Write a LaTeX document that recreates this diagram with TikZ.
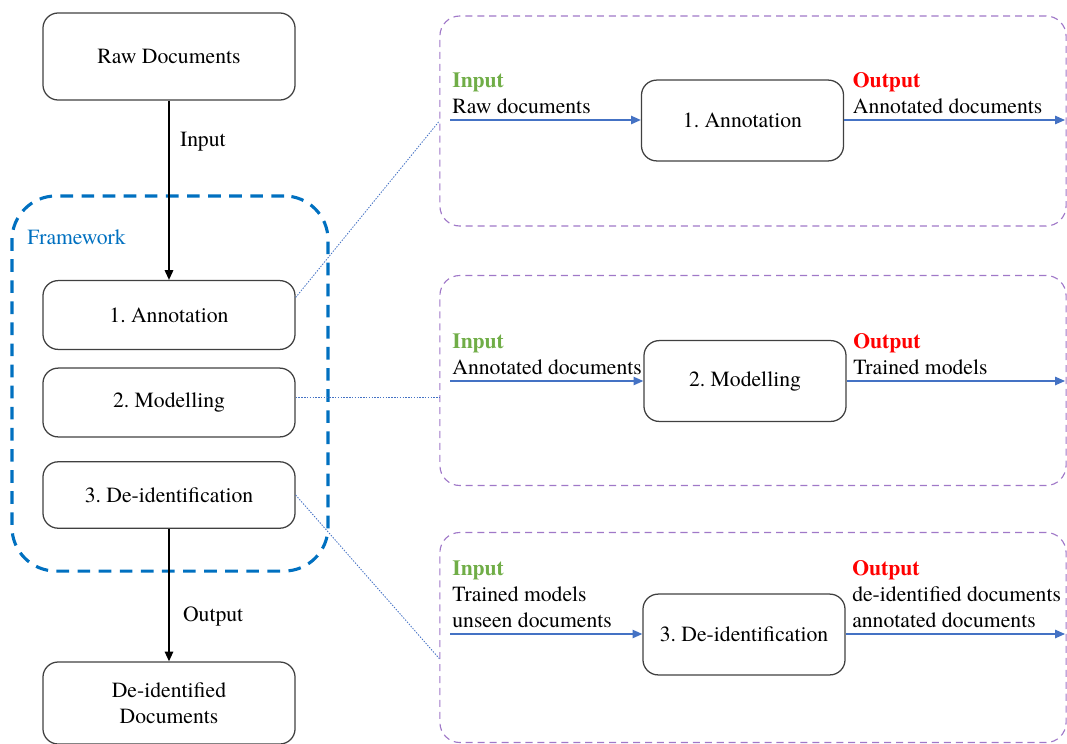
\documentclass[tikz,border=0pt]{standalone}
\usepackage{fontspec}
\setmainfont{texgyretermes}[Extension=.otf, UprightFont=*-regular, BoldFont=*-bold]
\usepackage{tikz}
\usetikzlibrary{calc,positioning,arrows.meta}
\definecolor{fwblue}{RGB}{0,112,192}
\definecolor{lnblue}{RGB}{68,114,196}
\definecolor{panelpurple}{RGB}{160,120,200}
\definecolor{ingreen}{RGB}{112,173,71}
\definecolor{outred}{RGB}{255,0,0}
\newcommand{\txt}{\fontsize{15.4}{18.5}\selectfont}
\tikzstyle{stage}   = [draw=black!75, line width=0.9pt, rounded corners=0.38cm, minimum width=6.3cm, align=center, font=\txt]
\tikzstyle{task}    = [draw=black!75, line width=0.9pt, rounded corners=0.38cm, minimum width=5.05cm, minimum height=2.02cm, align=center, font=\txt]
\tikzstyle{panel}   = [draw=panelpurple, line width=0.8pt, dash pattern=on 5pt off 3.5pt, rounded corners=0.5cm, minimum width=15.65cm, minimum height=5.25cm]
\tikzstyle{frame}   = [draw=fwblue, line width=2.2pt, dash pattern=on 9pt off 6pt, rounded corners=1.1cm, minimum width=7.9cm, minimum height=9.375cm]
\tikzstyle{arrow}   = [line width=1.3pt, -{Triangle[length=7pt,width=6pt]}]
\tikzstyle{flow}    = [lnblue, line width=0.9pt, -{Triangle[length=7pt,width=6pt]}]
\tikzstyle{link}    = [lnblue, line width=0.6pt, dash pattern=on 1pt off 1pt]
\tikzstyle{iolabel} = [align=left, anchor=south west, inner sep=1.5pt, yshift=2.5pt, font=\txt]

\begin{document}
\begin{tikzpicture}[x=0.025cm, y=-0.025cm]
        \useasboundingbox (0,0) rectangle (1067,744);

        \node[frame] (fw) at (170,383.5) {};
        \node[anchor=west, inner sep=0pt, text=fwblue, font=\txt] (fwname) at (27,237) {Framework};

        \node[stage, minimum height=2.175cm] (raw) at (169,56.5) {Raw Documents};
        \node[stage, minimum height=1.72cm] (anno) at (169,315) {1.\ Annotation};
        \node[stage, minimum height=1.72cm] (model) at (169,402.5) {2.\ Modelling};
        \node[stage, minimum height=1.66cm] (deid) at (169,495) {3.\ De-identification};
        \node[stage, minimum height=2.05cm] (out) at (169,703) {De-identified\\Documents};

        \draw[arrow] (raw) -- node[right, pos=0.23, font=\txt, xshift=4pt] (inlab) {Input} (anno);
        \draw[arrow] (deid) -- node[right, pos=0.66, font=\txt, xshift=6pt] (outlab) {Output} (out);

        \node[panel] (p1) at (753,121) {};
        \node[panel] (p2) at (753,380.5) {};
        \node[panel] (p3) at (753,637.5) {};

        \node[task] (t1) at (742.5,120.5) {1.\ Annotation};
        \node[task] (t2) at (745,381) {2.\ Modelling};
        \node[task] (t3) at (744,634.5) {3.\ De-identification};

        \coordinate (in1) at (450,120);
        \coordinate (in2) at (450,381);
        \coordinate (in3) at (450,634);
        \coordinate (out1) at (1065,120);
        \coordinate (out2) at (1065,381);
        \coordinate (out3) at (1065,634);

        \draw[flow] (in1) -- (in1 -| t1.west);
        \draw[flow] (in2) -- (in2 -| t2.west);
        \draw[flow] (in3) -- (in3 -| t3.west);
        \draw[flow] (out1 -| t1.east) -- (out1);
        \draw[flow] (out2 -| t2.east) -- (out2);
        \draw[flow] (out3 -| t3.east) -- (out3);

        \node[iolabel] (i1) at (in1) {\textbf{\color{ingreen}Input}\\Raw documents};
        \node[iolabel] (i2) at (in2) {\textbf{\color{ingreen}Input}\\Annotated documents};
        \node[iolabel] (i3) at (in3) {\textbf{\color{ingreen}Input}\\Trained models\\unseen documents};
        \node[iolabel, xshift=4.5pt] (o1) at (out1 -| t1.east) {\textbf{\color{outred}Output}\\Annotated documents};
        \node[iolabel, xshift=3pt] (o2) at (out2 -| t2.east) {\textbf{\color{outred}Output}\\Trained models};
        \node[iolabel, xshift=3pt] (o3) at (out3 -| t3.east) {\textbf{\color{outred}Output}\\de-identified documents\\annotated documents};

        \coordinate (m1) at ($(model.east)!0.15!(model.north east)$);
        \draw[link] ($(anno.east)!0.5!(anno.north east)$) -- (p1.west);
        \draw[link] (m1) -- (m1 -| p2.west);
        \draw[link] (deid.east) -- ($(p3.west)!0.2!(p3.south west)$);
    \end{tikzpicture}
\end{document}
